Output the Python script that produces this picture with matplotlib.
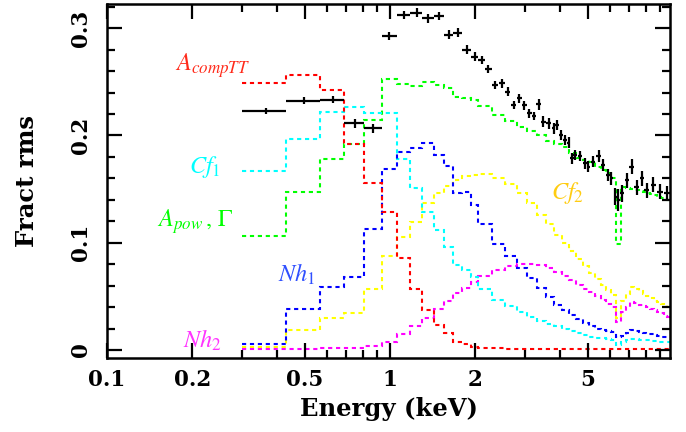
import matplotlib
matplotlib.use("Agg")
import matplotlib.pyplot as plt
from matplotlib.ticker import FixedLocator, NullFormatter, FixedFormatter
from matplotlib.font_manager import FontProperties

plt.rcParams['mathtext.fontset'] = 'stix'

# ---- model bin edges (keV) ----
edges = [0.3, 0.43, 0.565, 0.69, 0.81, 0.935, 1.055, 1.18, 1.3, 1.425, 1.55, 1.675, 1.8, 1.925, 2.05,
         2.3, 2.55, 2.8, 3.05, 3.3, 3.55, 3.8, 4.05, 4.3, 4.55, 4.8, 5.05, 5.3, 5.55, 5.8, 6.05,
         6.3, 6.55, 6.8, 7.05, 7.3, 7.55, 7.8, 8.05, 8.3, 8.55, 8.8, 9.05, 9.3, 9.55, 9.8]

a_comptt = [0.249, 0.2566, 0.242, 0.192, 0.156, 0.129, 0.086, 0.057, 0.037, 0.023, 0.016, 0.0078, 0.0053, 0.003,
            0.002, 0.0015, 0.0012, 0.001, 0.001, 0.0009, 0.0009, 0.0008, 0.0008, 0.0008, 0.0008, 0.0008, 0.0008,
            0.0008, 0.0008, 0.0008, 0.0008, 0.0007, 0.0007, 0.0007, 0.0007, 0.0007, 0.0007, 0.0007, 0.0007,
            0.0007, 0.0007, 0.0007, 0.0007, 0.0007, 0.0007]
cf1 = [0.1668, 0.197, 0.2215, 0.2268, 0.2205, 0.2205, 0.178, 0.1507, 0.129, 0.112, 0.096, 0.079, 0.075, 0.0678,
       0.057, 0.047, 0.041, 0.0357, 0.031, 0.027, 0.024, 0.022, 0.0195, 0.018, 0.0155, 0.014, 0.0125, 0.0115,
       0.0108, 0.010, 0.0093, 0.0047, 0.0078, 0.0095, 0.010, 0.0098, 0.0095, 0.0093, 0.009, 0.0085, 0.008,
       0.0078, 0.0075, 0.0073, 0.0072]
a_pow = [0.106, 0.147, 0.178, 0.192, 0.214, 0.253, 0.248, 0.246, 0.2495, 0.247, 0.244, 0.236, 0.235, 0.233,
         0.227, 0.219, 0.213, 0.208, 0.204, 0.200, 0.195, 0.192, 0.189, 0.184, 0.179, 0.177, 0.175, 0.171,
         0.168, 0.165, 0.160, 0.099, 0.152, 0.151, 0.150, 0.149, 0.148, 0.147, 0.146, 0.145, 0.144, 0.143,
         0.142, 0.141, 0.140]
nh1 = [0.0053, 0.038, 0.0584, 0.0683, 0.1125, 0.169, 0.185, 0.188, 0.193, 0.1817, 0.1715, 0.146, 0.147, 0.135,
       0.117, 0.099, 0.088, 0.076, 0.067, 0.058, 0.049, 0.042, 0.037, 0.033, 0.029, 0.025, 0.022, 0.020,
       0.0185, 0.0175, 0.0165, 0.0124, 0.0133, 0.016, 0.0186, 0.018, 0.017, 0.016, 0.015, 0.0145, 0.014,
       0.013, 0.0125, 0.012, 0.0118]
cf2 = [0.003, 0.0186, 0.0295, 0.034, 0.0566, 0.0876, 0.105, 0.1196, 0.1367, 0.146, 0.153, 0.158, 0.162, 0.163,
       0.164, 0.160, 0.155, 0.146, 0.137, 0.126, 0.117, 0.107, 0.100, 0.092, 0.085, 0.078, 0.072, 0.066,
       0.061, 0.056, 0.051, 0.030, 0.046, 0.052, 0.059, 0.057, 0.055, 0.052, 0.050, 0.048, 0.046, 0.045,
       0.043, 0.042, 0.040]
nh2 = [0.0005, 0.001, 0.0015, 0.002, 0.004, 0.0078, 0.015, 0.0224, 0.0295, 0.038, 0.0455, 0.0534, 0.0575, 0.0637,
       0.069, 0.075, 0.078, 0.080, 0.080, 0.079, 0.0765, 0.073, 0.069, 0.065, 0.061, 0.057, 0.054, 0.050,
       0.047, 0.043, 0.040, 0.026, 0.035, 0.040, 0.045, 0.044, 0.042, 0.041, 0.040, 0.038, 0.037, 0.035,
       0.034, 0.032, 0.031]

# ---- data points ----
data_e = [0.365, 0.4975, 0.6275, 0.75, 0.8725, 0.995, 1.1175, 1.24, 1.3625, 1.4875, 1.6125, 1.7375, 1.8625,
          1.9875, 2.11, 2.226, 2.35, 2.48, 2.60, 2.73, 2.86, 2.98, 3.10, 3.23, 3.35, 3.48, 3.63, 3.78, 3.88,
          4.01, 4.15, 4.27, 4.39, 4.51, 4.69, 4.89, 5.02, 5.20, 5.45, 5.64, 5.91, 6.04, 6.24, 6.41, 6.59,
          6.86, 7.15, 7.44, 7.75, 8.07, 8.52, 9.0, 9.5]
data_de = [0.065, 0.0675, 0.0625, 0.06, 0.0625, 0.06, 0.0625, 0.06, 0.0625, 0.0625, 0.0625, 0.0625, 0.0625,
           0.0625, 0.06, 0.06, 0.06, 0.06, 0.06, 0.06, 0.06, 0.06, 0.06, 0.06, 0.06, 0.065, 0.07, 0.06, 0.06,
           0.06, 0.065, 0.06, 0.06, 0.07, 0.08, 0.07, 0.07, 0.08, 0.1, 0.1, 0.1, 0.08, 0.08, 0.08, 0.1,
           0.12, 0.14, 0.14, 0.14, 0.16, 0.2, 0.22, 0.22]
data_v = [0.2227, 0.2324, 0.2333, 0.2113, 0.2066, 0.2926, 0.3122, 0.3144, 0.309, 0.3113, 0.294, 0.2958, 0.280,
          0.2734, 0.2703, 0.2619, 0.247, 0.2485, 0.2407, 0.2283, 0.2346, 0.228, 0.2206, 0.218, 0.229, 0.2128,
          0.2113, 0.2066, 0.2097, 0.2004, 0.1957, 0.1932, 0.1787, 0.1817, 0.1808, 0.174, 0.1708, 0.1755,
          0.1808, 0.1724, 0.1631, 0.160, 0.1429, 0.1398, 0.146, 0.1584, 0.1708, 0.1516, 0.160, 0.149, 0.1538,
          0.1475, 0.146]
data_dv = [0.003, 0.003, 0.003, 0.004, 0.004, 0.004, 0.004, 0.004, 0.004, 0.004, 0.004, 0.004, 0.004,
           0.004, 0.004, 0.004, 0.004, 0.004, 0.004, 0.004, 0.004, 0.004, 0.004, 0.004, 0.005, 0.005,
           0.005, 0.005, 0.005, 0.005, 0.005, 0.005, 0.005, 0.005, 0.005, 0.005, 0.005, 0.005, 0.006,
           0.006, 0.006, 0.006, 0.008, 0.01, 0.008, 0.007, 0.007, 0.007, 0.007, 0.007, 0.007, 0.007, 0.007]

x_ticks = [0.1, 0.2, 0.5, 1, 2, 5]
x_ticklabels = ['0.1', '0.2', '0.5', '1', '2', '5']
y_ticks = [0, 0.1, 0.2, 0.3]
y_ticklabels = ['0', '0.1', '0.2', '0.3']

fig = plt.figure(figsize=(6.86, 4.32), dpi=100)
ax = fig.add_axes([0.156, 0.1713, 0.8207, 0.8194])

ls = (0, (2.0, 1.8))
lw = 1.5
ax.stairs(a_pow, edges, color='#00ff00', linestyle=ls, linewidth=lw, baseline=None)
ax.stairs(cf2, edges, color='#ffff00', linestyle=ls, linewidth=lw, baseline=None)
ax.stairs(nh2, edges, color='#ff00ff', linestyle=ls, linewidth=lw, baseline=None)
ax.stairs(cf1, edges, color='#00ffff', linestyle=ls, linewidth=lw, baseline=None)
ax.stairs(nh1, edges, color='#0000ff', linestyle=ls, linewidth=lw, baseline=None)
ax.stairs(a_comptt, edges, color='#ff0000', linestyle=ls, linewidth=lw, baseline=None)

ax.errorbar(data_e, data_v, xerr=data_de, yerr=data_dv, fmt='none', ecolor='black',
            elinewidth=1.6, capsize=0, zorder=5)

ax.set_xscale('log')
ax.set_xlim(0.1, 9.75)
ax.set_ylim(-0.0075, 0.3225)

ax.xaxis.set_major_locator(FixedLocator(x_ticks))
ax.xaxis.set_major_formatter(FixedFormatter(x_ticklabels))
ax.xaxis.set_minor_locator(FixedLocator([0.3, 0.4, 0.6, 0.7, 0.8, 0.9, 3, 4, 6, 7, 8, 9]))
ax.xaxis.set_minor_formatter(NullFormatter())
ax.yaxis.set_major_locator(FixedLocator(y_ticks))
ax.yaxis.set_major_formatter(FixedFormatter(y_ticklabels))
ax.yaxis.set_minor_locator(FixedLocator([0.02, 0.04, 0.06, 0.08, 0.12, 0.14, 0.16, 0.18,
                                         0.22, 0.24, 0.26, 0.28, 0.32]))

ax.tick_params(which='both', direction='in', top=True, right=True, width=1.6)
ax.tick_params(which='major', length=11)
ax.tick_params(which='minor', length=6)
ax.tick_params(axis='x', which='major', pad=8)
ax.tick_params(axis='y', which='major', pad=11)
for s in ax.spines.values():
    s.set_linewidth(1.8)

tfont = FontProperties(family='DejaVu Serif', weight='bold', size=15.5)
for lab in ax.get_xticklabels():
    lab.set_fontproperties(tfont)
for lab in ax.get_yticklabels():
    lab.set_fontproperties(tfont)
    lab.set_rotation(90)
    lab.set_verticalalignment('center')

ax.set_xlabel('Energy (keV)', fontdict=dict(family='DejaVu Serif', weight='bold', size=17.5), labelpad=4)
ax.set_ylabel('Fract rms', fontdict=dict(family='DejaVu Serif', weight='bold', size=17.5), labelpad=22)

lab_fs = 17.5
ax.text(0.235, 0.265, r'$A_{compTT}$', color='#ff2a1a', fontsize=lab_fs, ha='center', va='center')
ax.text(0.222, 0.1705, r'$Cf_{1}$', color='#00ffff', fontsize=lab_fs, ha='center', va='center')
ax.text(0.205, 0.120, r'$A_{pow}\,,\,\mathit{\Gamma}$', color='#00ff00', fontsize=lab_fs, ha='center', va='center')
ax.text(0.469, 0.0708, r'$Nh_{1}$', color='#3050ff', fontsize=lab_fs, ha='center', va='center')
ax.text(0.218, 0.0093, r'$Nh_{2}$', color='#ff33ff', fontsize=lab_fs, ha='center', va='center')
ax.text(4.22, 0.146, r'$Cf_{2}$', color='#ffcc11', fontsize=lab_fs, ha='center', va='center')

fig.savefig('out.png', dpi=100)
